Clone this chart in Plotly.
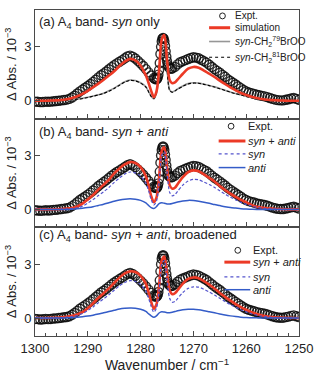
import plotly.graph_objects as go
from plotly.subplots import make_subplots

# ---------------- data ----------------
wn_expt = [1300, 1299.5, 1299, 1298.5, 1298, 1297.5, 1297, 1296.5, 1296, 1295.5,
           1295, 1294.5, 1294, 1293.5, 1293, 1292.5, 1292, 1291.5, 1291, 1290.5,
           1290, 1289.5, 1289, 1288.5, 1288, 1287.5, 1287, 1286.5, 1286, 1285.5,
           1285, 1284.5, 1284, 1283.5, 1283, 1282.5, 1282, 1281.5, 1281, 1280.5,
           1280, 1279.5, 1279, 1278.5, 1278, 1277.5,
           1277.25, 1277, 1276.875, 1276.75, 1276.625, 1276.5, 1276.375, 1276.25,
           1276.125, 1276, 1275.875, 1275.75, 1275.625, 1275.5, 1275.375, 1275.25,
           1275.125, 1275, 1274.875, 1274.75, 1274.5, 1274.25, 1274,
           1273.5, 1273, 1272.5, 1272, 1271.5, 1271, 1270.5, 1270, 1269.5, 1269,
           1268.5, 1268, 1267.5, 1267, 1266.5, 1266, 1265.5, 1265, 1264.5, 1264,
           1263.5, 1263, 1262.5, 1262, 1261.5, 1261, 1260.5, 1260, 1259.5, 1259,
           1258.5, 1258, 1257.5, 1257, 1256.5, 1256, 1255.5, 1255, 1254.5, 1254,
           1253.5, 1253, 1252.5, 1252, 1251.5, 1251, 1250.5, 1250]
abs_expt = [-0.05, -0.06, -0.08, -0.07, -0.05, -0.06, -0.05, -0.03, -0.02, 0.0,
            0.02, 0.04, 0.06, 0.10, 0.18, 0.28, 0.40, 0.52, 0.62, 0.72,
            0.82, 0.93, 1.05, 1.17, 1.30, 1.42, 1.52, 1.63, 1.75, 1.87,
            1.98, 2.08, 2.17, 2.26, 2.36, 2.46, 2.51, 2.45, 2.35, 2.22,
            2.08, 1.93, 1.76, 1.58, 1.40, 1.26,
            1.20, 1.19, 1.22, 1.30, 1.45, 1.70, 2.10, 2.60,
            3.00, 3.30, 3.45, 3.50, 3.45, 3.30, 3.05, 2.75,
            2.45, 2.20, 2.00, 1.90, 1.82, 1.78, 1.80,
            1.88, 2.02, 2.14, 2.20, 2.26, 2.32, 2.38, 2.42, 2.40, 2.36,
            2.28, 2.20, 2.12, 2.00, 1.88, 1.76, 1.66, 1.56, 1.44, 1.33,
            1.20, 1.10, 1.00, 0.90, 0.80, 0.70, 0.60, 0.52, 0.46, 0.42,
            0.38, 0.33, 0.30, 0.27, 0.24, 0.20, 0.15, 0.10, 0.06, 0.03,
            0.02, 0.02, 0.05, 0.08, 0.12, 0.15, 0.10, 0.05]

wn_sim = [1300, 1299, 1298, 1297, 1296, 1295, 1294, 1293, 1292, 1291, 1290,
          1289, 1288, 1287, 1286, 1285, 1284, 1283, 1282, 1281, 1280, 1279,
          1278.5, 1278, 1277.5, 1277, 1276.5, 1276, 1275.5, 1275, 1274.5, 1274, 1273.5,
          1273, 1272, 1271, 1270, 1269, 1268, 1267, 1266, 1265, 1264, 1263, 1262,
          1261, 1260, 1259, 1258, 1257, 1256, 1255, 1254, 1253, 1252, 1251, 1250]

# panel (a)
sim_a = [0, 0, 0, 0.01, 0.02, 0.04, 0.08, 0.15, 0.25, 0.38, 0.55,
         0.75, 0.95, 1.17, 1.40, 1.64, 1.93, 2.18, 2.33, 2.25, 1.95, 1.40,
         1.00, 0.55, 0.20, 0.50, 1.70, 3.40, 3.65, 2.30, 1.15, 0.97, 1.02,
         1.17, 1.50, 1.78, 1.88, 1.84, 1.68, 1.50, 1.32, 1.12, 0.93, 0.74, 0.58,
         0.43, 0.32, 0.22, 0.15, 0.09, 0.05, 0.03, 0.02, 0.01, 0, 0, 0]
iso79_a = [0, 0, 0, 0, 0.01, 0.02, 0.03, 0.05, 0.08, 0.13, 0.19,
           0.26, 0.33, 0.42, 0.55, 0.70, 0.88, 1.05, 1.15, 1.12, 1.00, 0.78,
           0.52, 0.25, 0.10, 0.40, 1.40, 2.80, 3.10, 1.80, 0.60, 0.48, 0.55,
           0.65, 0.82, 0.95, 1.00, 0.98, 0.92, 0.85, 0.77, 0.68, 0.58, 0.48, 0.40,
           0.33, 0.25, 0.18, 0.12, 0.08, 0.05, 0.03, 0.02, 0.01, 0, 0, 0]
iso81_a = [0, 0, 0, 0, 0.01, 0.02, 0.03, 0.05, 0.08, 0.12, 0.18,
           0.25, 0.32, 0.41, 0.53, 0.68, 0.86, 1.03, 1.13, 1.10, 0.98, 0.76,
           0.50, 0.24, 0.12, 0.45, 1.50, 2.90, 3.00, 1.70, 0.58, 0.47, 0.54,
           0.64, 0.80, 0.93, 0.98, 0.97, 0.91, 0.84, 0.76, 0.67, 0.57, 0.47, 0.39,
           0.32, 0.24, 0.17, 0.12, 0.08, 0.05, 0.03, 0.02, 0.01, 0, 0, 0]

# panel (b)
sum_b = [0, 0, 0, 0, 0.01, 0.02, 0.04, 0.08, 0.16, 0.32, 0.55,
         0.80, 1.10, 1.38, 1.65, 2.00, 2.28, 2.50, 2.63, 2.58, 2.35, 1.85,
         1.35, 0.75, 0.40, 0.65, 1.75, 3.25, 3.45, 2.35, 1.35, 1.15, 1.20,
         1.40, 1.80, 2.08, 2.17, 2.12, 1.95, 1.75, 1.55, 1.30, 1.08, 0.88, 0.70,
         0.53, 0.40, 0.25, 0.15, 0.10, 0.06, 0.04, 0.02, 0.01, 0, 0, 0]
syn_b = [0, 0, 0, 0, 0, 0.01, 0.02, 0.05, 0.09, 0.18, 0.35,
         0.55, 0.77, 0.98, 1.22, 1.50, 1.75, 1.97, 2.08, 2.03, 1.85, 1.45,
         1.05, 0.55, 0.25, 0.45, 1.50, 3.00, 3.20, 2.10, 0.95, 0.75, 0.82,
         1.00, 1.35, 1.58, 1.67, 1.65, 1.52, 1.38, 1.22, 1.03, 0.85, 0.68, 0.53,
         0.39, 0.28, 0.19, 0.12, 0.07, 0.04, 0.02, 0.01, 0, 0, 0, 0]
anti_b = [0, 0, 0, 0, 0, 0, 0, 0.01, 0.03, 0.06, 0.10,
          0.15, 0.22, 0.29, 0.37, 0.45, 0.52, 0.57, 0.59, 0.57, 0.50, 0.36,
          0.22, 0.10, 0.05, 0.15, 0.32, 0.37, 0.34, 0.30, 0.30, 0.33, 0.37,
          0.41, 0.47, 0.50, 0.49, 0.45, 0.40, 0.34, 0.27, 0.21, 0.15, 0.10, 0.07,
          0.04, 0.02, 0.01, 0, 0, 0, 0, 0, 0, 0, 0, 0]

# panel (c)
sum_c = [0, 0, 0, 0.01, 0.02, 0.04, 0.07, 0.12, 0.20, 0.33, 0.55,
         0.82, 1.12, 1.38, 1.65, 1.95, 2.25, 2.48, 2.60, 2.56, 2.35, 1.90,
         1.45, 0.90, 0.52, 0.75, 1.80, 3.20, 3.42, 2.50, 1.55, 1.33, 1.38,
         1.55, 1.92, 2.18, 2.26, 2.22, 2.06, 1.86, 1.65, 1.40, 1.18, 0.97, 0.78,
         0.61, 0.46, 0.33, 0.22, 0.14, 0.09, 0.05, 0.03, 0.02, 0.01, 0, 0]
syn_c = [0, 0, 0, 0, 0.01, 0.02, 0.04, 0.08, 0.14, 0.25, 0.42,
         0.62, 0.85, 1.07, 1.30, 1.55, 1.80, 1.98, 2.08, 2.04, 1.87, 1.50,
         1.12, 0.65, 0.33, 0.55, 1.55, 3.00, 3.20, 2.20, 1.10, 0.88, 0.92,
         1.08, 1.42, 1.65, 1.74, 1.72, 1.60, 1.45, 1.28, 1.10, 0.92, 0.75, 0.60,
         0.46, 0.34, 0.24, 0.16, 0.10, 0.06, 0.03, 0.02, 0.01, 0, 0, 0]
anti_c = [0, 0, 0, 0, 0, 0, 0.01, 0.02, 0.04, 0.07, 0.11,
          0.16, 0.22, 0.29, 0.36, 0.43, 0.50, 0.54, 0.56, 0.55, 0.49, 0.37,
          0.24, 0.12, 0.04, 0.12, 0.28, 0.35, 0.33, 0.30, 0.30, 0.32, 0.36,
          0.40, 0.46, 0.49, 0.49, 0.46, 0.41, 0.35, 0.29, 0.23, 0.17, 0.12, 0.08,
          0.05, 0.03, 0.02, 0.01, 0, 0, 0, 0, 0, 0, 0, 0]

x_ticks = [1300, 1290, 1280, 1270, 1260, 1250]
y_ticks = [0, 3]
panel_titles = ["(a) A<sub>4</sub> band- <i>syn</i> only",
                "(b) A<sub>4</sub> band- <i>syn</i> + <i>anti</i>",
                "(c) A<sub>4</sub> band- <i>syn</i> + <i>anti</i>, broadened"]

# ---------------- styles ----------------
RED = "rgb(236,58,38)"
BLUE = "rgb(52,92,200)"
BLUE_D = "rgb(84,84,205)"
GRAY = "rgb(150,150,150)"
FRAME = "#4a4a4a"
FONT = "Arial, Liberation Sans, Helvetica, sans-serif"

W, H = 322, 378
L, R, T, B = 35, 311, 9, 340


def px(x):
    return (x - L) / (R - L)


def py(y):
    return (B - y) / (B - T)


fig = make_subplots(rows=3, cols=1, shared_xaxes=True, vertical_spacing=0)

expt_style = dict(mode="markers",
                  marker=dict(symbol="circle-open", size=9,
                              color="rgba(10,10,10,0.85)", line=dict(width=1.4)))

panels = {
    1: [(iso79_a, dict(color=GRAY, width=1.6)),
        (iso81_a, dict(color="black", width=1.1, dash="3px,2px")),
        (sim_a, dict(color=RED, width=2.6))],
    2: [(sum_b, dict(color=RED, width=2.6)),
        (syn_b, dict(color=BLUE_D, width=1.2, dash="3px,2px")),
        (anti_b, dict(color=BLUE, width=1.5))],
    3: [(sum_c, dict(color=RED, width=2.6)),
        (syn_c, dict(color=BLUE_D, width=1.2, dash="3px,2px")),
        (anti_c, dict(color=BLUE, width=1.5))],
}

for row, lines in panels.items():
    fig.add_trace(go.Scatter(x=wn_expt, y=abs_expt, **expt_style), row=row, col=1)
    for ys, ln in lines:
        fig.add_trace(go.Scatter(x=wn_sim, y=ys, mode="lines",
                                 line=dict(shape="spline", smoothing=0.8, **ln)),
                      row=row, col=1)

for row in (1, 2, 3):
    fig.update_xaxes(row=row, col=1, range=[1300, 1250], tickvals=x_ticks,
                     ticks="inside", ticklen=5, tickwidth=1, tickcolor=FRAME,
                     minor=dict(dtick=2, tick0=1250, ticks="inside", ticklen=3,
                                tickcolor=FRAME, showgrid=False),
                     showline=True, linecolor=FRAME, linewidth=1, mirror=True,
                     showgrid=False, zeroline=False,
                     showticklabels=(row == 3), ticklabeloverflow="allow",
                     tickfont=dict(size=13, color="#222", family=FONT))
    fig.update_yaxes(row=row, col=1, range=[-1.0, 5.05], tickvals=y_ticks,
                     ticks="inside", ticklen=5, tickwidth=1, tickcolor=FRAME,
                     showline=True, linecolor=FRAME, linewidth=1, mirror=True,
                     showgrid=False, zeroline=False,
                     tickfont=dict(size=13, color="#222", family=FONT),
                     title=dict(text="Δ Abs. / 10<sup>−3</sup>", standoff=4,
                                font=dict(size=13, color="#222", family=FONT)))

fig.update_xaxes(row=3, col=1,
                 title=dict(text="Wavenumber / cm<sup>−1</sup>", standoff=4,
                            font=dict(size=14, color="#222", family=FONT)))

annotations = []
shapes = []

# panel titles
for title, ycen in zip(panel_titles, [22, 133, 238]):
    annotations.append(dict(text=title, xref="paper", yref="paper",
                            x=px(37), y=py(ycen), xanchor="left", yanchor="middle",
                            showarrow=False,
                            font=dict(size=13, color="#222", family=FONT)))

# legends (manual keys so spacing matches the figure)
legend_specs = [
    (231, 15, 217, 239, 242, 10,
     [(27, "simulation", dict(color=RED, width=3)),
      (41, "<i>syn</i>-CH<sub>2</sub><sup>79</sup>BrOO", dict(color=GRAY, width=1.6)),
      (57, "<i>syn</i>-CH<sub>2</sub><sup>81</sup>BrOO", dict(color="black", width=1.1, dash="dot"))]),
    (240, 127, 227, 255, 256, 11,
     [(142, "<i>syn</i> + <i>anti</i>", dict(color=RED, width=3)),
      (155, "<i>syn</i>", dict(color=BLUE_D, width=1.2, dash="dot")),
      (169, "<i>anti</i>", dict(color=BLUE, width=1.5))]),
    (247, 253, 233, 260, 261, 11,
     [(265, "<i>syn</i> + <i>anti</i>", dict(color=RED, width=3)),
      (280, "<i>syn</i>", dict(color=BLUE_D, width=1.2, dash="dot")),
      (293, "<i>anti</i>", dict(color=BLUE, width=1.5))]),
]
for cx, cy, lx0, lx1, tx, fs, entries in legend_specs:
    shapes.append(dict(type="circle", xref="paper", yref="paper",
                       x0=px(cx - 3), x1=px(cx + 3), y0=py(cy + 3), y1=py(cy - 3),
                       line=dict(color="#222", width=1)))
    annotations.append(dict(text="Expt.", xref="paper", yref="paper",
                            x=px(tx), y=py(cy), xanchor="left", yanchor="middle",
                            showarrow=False,
                            font=dict(size=fs, color="#222", family=FONT)))
    for ey, label, ln in entries:
        shapes.append(dict(type="line", xref="paper", yref="paper",
                           x0=px(lx0), x1=px(lx1), y0=py(ey), y1=py(ey), line=ln))
        annotations.append(dict(text=label, xref="paper", yref="paper",
                                x=px(tx), y=py(ey), xanchor="left", yanchor="middle",
                                showarrow=False,
                                font=dict(size=fs, color="#222", family=FONT)))

fig.update_layout(width=W, height=H,
                  margin=dict(l=L, r=W - R, t=T, b=H - B, pad=0),
                  paper_bgcolor="white", plot_bgcolor="white",
                  showlegend=False, font=dict(family=FONT, color="#222"),
                  annotations=annotations, shapes=shapes)

fig.write_html("out.html")
